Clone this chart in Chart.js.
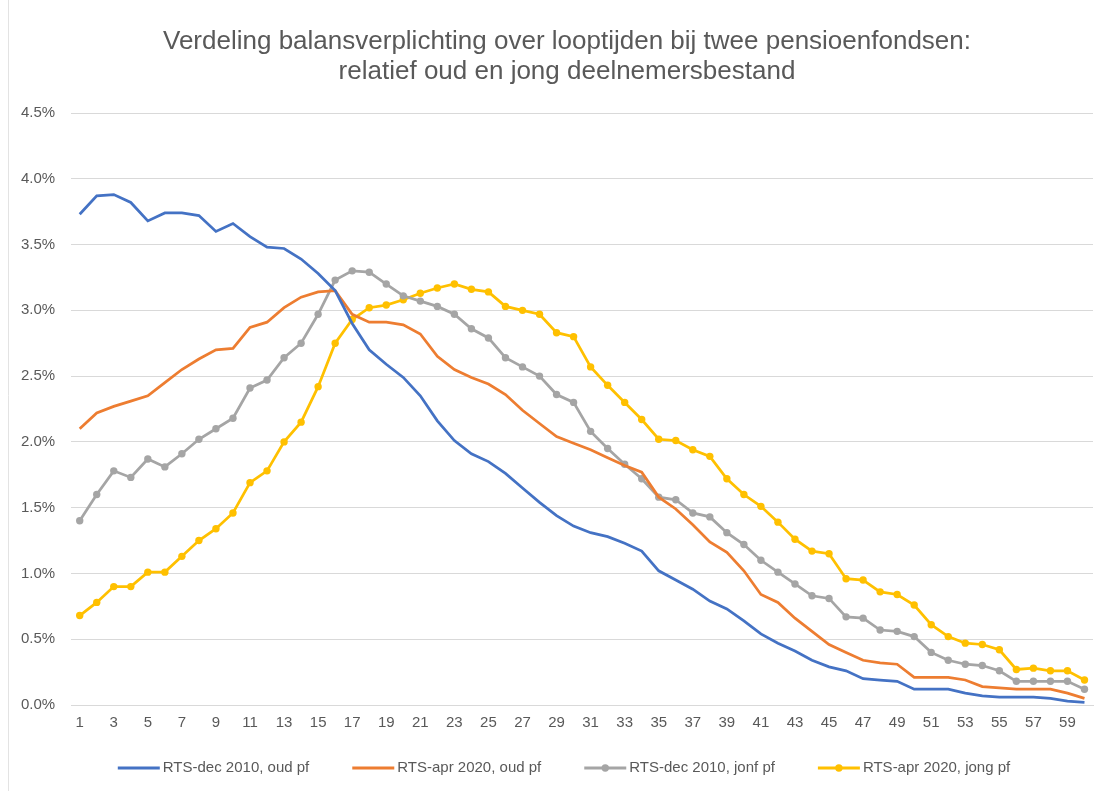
<!DOCTYPE html>
<html>
<head>
<meta charset="utf-8">
<script src="https://cdn.jsdelivr.net/npm/chart.js@4.4.1/dist/chart.umd.min.js"></script>
<style>
  html, body { margin: 0; padding: 0; background: #ffffff; }
  #wrap { position: relative; width: 1110px; height: 791px; }
</style>
</head>
<body>
<div id="wrap"><canvas id="c"></canvas></div>
<script>
// ---- Data (values in %) ----
const categories = Array.from({length: 60}, (_, i) => String(i + 1));

const seriesNames = [
  'RTS-dec 2010, oud pf',
  'RTS-apr 2020, oud pf',
  'RTS-dec 2010, jonf pf',
  'RTS-apr 2020, jong pf'
];

const dec2010Oud = [
  3.73, 3.87, 3.88, 3.82, 3.68, 3.74, 3.74, 3.72, 3.60, 3.66,
  3.56, 3.48, 3.47, 3.39, 3.28, 3.15, 2.90, 2.70, 2.59, 2.49,
  2.35, 2.16, 2.01, 1.91, 1.85, 1.76, 1.65, 1.54, 1.44, 1.36,
  1.31, 1.28, 1.23, 1.17, 1.02, 0.95, 0.88, 0.79, 0.73, 0.64,
  0.54, 0.47, 0.41, 0.34, 0.29, 0.26, 0.20, 0.19, 0.18, 0.12,
  0.12, 0.12, 0.09, 0.07, 0.06, 0.06, 0.06, 0.05, 0.03, 0.02
];

const apr2020Oud = [
  2.10, 2.22, 2.27, 2.31, 2.35, 2.45, 2.55, 2.63, 2.70, 2.71,
  2.87, 2.91, 3.02, 3.10, 3.14, 3.15, 2.97, 2.91, 2.91, 2.89,
  2.82, 2.65, 2.55, 2.49, 2.44, 2.36, 2.24, 2.14, 2.04, 1.99,
  1.94, 1.88, 1.82, 1.77, 1.58, 1.49, 1.37, 1.24, 1.16, 1.02,
  0.84, 0.78, 0.66, 0.56, 0.46, 0.40, 0.34, 0.32, 0.31, 0.21,
  0.21, 0.21, 0.19, 0.14, 0.13, 0.12, 0.12, 0.12, 0.09, 0.05
];

const dec2010Jong = [
  1.40, 1.60, 1.78, 1.73, 1.87, 1.81, 1.91, 2.02, 2.10, 2.18,
  2.41, 2.47, 2.64, 2.75, 2.97, 3.23, 3.30, 3.29, 3.20, 3.11,
  3.07, 3.03, 2.97, 2.86, 2.79, 2.64, 2.57, 2.50, 2.36, 2.30,
  2.08, 1.95, 1.83, 1.72, 1.58, 1.56, 1.46, 1.43, 1.31, 1.22,
  1.10, 1.01, 0.92, 0.83, 0.81, 0.67, 0.66, 0.57, 0.56, 0.52,
  0.40, 0.34, 0.31, 0.30, 0.26, 0.18, 0.18, 0.18, 0.18, 0.12
];

const apr2020Jong = [
  0.68, 0.78, 0.90, 0.90, 1.01, 1.01, 1.13, 1.25, 1.34, 1.46,
  1.69, 1.78, 2.00, 2.15, 2.42, 2.75, 2.93, 3.02, 3.04, 3.08,
  3.13, 3.17, 3.20, 3.16, 3.14, 3.03, 3.00, 2.97, 2.83, 2.80,
  2.57, 2.43, 2.30, 2.17, 2.02, 2.01, 1.94, 1.89, 1.72, 1.60,
  1.51, 1.39, 1.26, 1.17, 1.15, 0.96, 0.95, 0.86, 0.84, 0.76,
  0.61, 0.52, 0.47, 0.46, 0.42, 0.27, 0.28, 0.26, 0.26, 0.19
];

const yTickValues = [0, 0.5, 1.0, 1.5, 2.0, 2.5, 3.0, 3.5, 4.0, 4.5];

const titleLines = [
  'Verdeling balansverplichting over looptijden bij twee pensioenfondsen:',
  'relatief oud en jong deelnemersbestand'
];

// ---- Styling ----
const colors = ['#4472C4', '#ED7D31', '#A5A5A5', '#FFC000'];
const hasMarker = [false, false, true, true];
const FONT = "'Liberation Sans', 'DejaVu Sans', sans-serif";
const TXT = '#595959';

const seriesData = [dec2010Oud, apr2020Oud, dec2010Jong, apr2020Jong];
const datasets = seriesData.map((d, i) => ({
  label: seriesNames[i],
  data: d,
  borderColor: colors[i],
  backgroundColor: colors[i],
  borderWidth: 2.75,
  tension: 0,
  pointRadius: hasMarker[i] ? 3.7 : 0,
  pointHoverRadius: hasMarker[i] ? 3.7 : 0,
  pointStyle: 'circle',
  pointBorderWidth: 0,
  pointBackgroundColor: colors[i],
  fill: false
}));

const bgPlugin = {
  id: 'bg',
  beforeDraw(chart) {
    const ctx = chart.ctx;
    ctx.save();
    ctx.fillStyle = '#ffffff';
    ctx.fillRect(0, 0, chart.width, chart.height);
    ctx.strokeStyle = '#e3e3e3';
    ctx.lineWidth = 1;
    ctx.beginPath(); ctx.moveTo(8.5, 0); ctx.lineTo(8.5, chart.height); ctx.stroke();
    ctx.restore();
  }
};

// Title (two centred lines)
const titlePlugin = {
  id: 'xlTitle',
  afterDraw(chart) {
    const ctx = chart.ctx;
    ctx.save();
    ctx.font = '26px ' + FONT;
    ctx.fillStyle = TXT;
    ctx.textAlign = 'center';
    ctx.textBaseline = 'middle';
    ctx.fillText(titleLines[0], 567, 42);
    ctx.fillText(titleLines[1], 567, 72);
    ctx.restore();
  }
};

// Legend drawn as line samples (Excel style)
const legendPlugin = {
  id: 'xlLegend',
  afterDraw(chart) {
    const ctx = chart.ctx;
    const lineLen = 42, gapText = 3, gapItem = 43, cy = 768, cx = 564;
    ctx.save();
    ctx.font = '15px ' + FONT;
    const widths = seriesNames.map(n => ctx.measureText(n).width);
    const total = widths.reduce((a, w) => a + lineLen + gapText + w, 0) + gapItem * (seriesNames.length - 1);
    let x = cx - total / 2;
    seriesNames.forEach((n, i) => {
      ctx.strokeStyle = colors[i];
      ctx.lineWidth = 3;
      ctx.beginPath(); ctx.moveTo(x, cy); ctx.lineTo(x + lineLen, cy); ctx.stroke();
      if (hasMarker[i]) {
        ctx.fillStyle = colors[i];
        ctx.beginPath(); ctx.arc(x + lineLen / 2, cy, 3.7, 0, Math.PI * 2); ctx.fill();
      }
      ctx.fillStyle = TXT;
      ctx.textBaseline = 'middle';
      ctx.textAlign = 'left';
      ctx.fillText(n, x + lineLen + gapText, cy);
      x += lineLen + gapText + widths[i] + gapItem;
    });
    ctx.restore();
  }
};

new Chart(document.getElementById('c'), {
  type: 'line',
  data: { labels: categories, datasets },
  plugins: [bgPlugin, titlePlugin, legendPlugin],
  options: {
    responsive: true,
    maintainAspectRatio: false,
    animation: false,
    events: [],
    layout: { padding: { left: 5, right: 17, top: 113, bottom: 50 } },
    plugins: {
      title: { display: false },
      legend: { display: false },
      tooltip: { enabled: false }
    },
    scales: {
      x: {
        type: 'category',
        offset: true,
        grid: { display: false, drawTicks: false },
        border: { display: true, color: '#d9d9d9', width: 1 },
        ticks: {
          autoSkip: false,
          maxRotation: 0,
          minRotation: 0,
          padding: 9,
          color: TXT,
          font: { family: FONT, size: 15 },
          callback: function(v, i) { return (i % 2 === 0) ? categories[i] : ''; }
        }
      },
      y: {
        min: 0,
        max: 4.5,
        afterBuildTicks(scale) { scale.ticks = yTickValues.map(v => ({ value: v })); },
        grid: { color: '#d9d9d9', lineWidth: 1, drawTicks: false },
        border: { display: false },
        ticks: {
          padding: 16,
          color: TXT,
          font: { family: FONT, size: 15 },
          callback: v => Number(v).toFixed(1) + '%'
        }
      }
    }
  }
});
</script>
</body>
</html>
